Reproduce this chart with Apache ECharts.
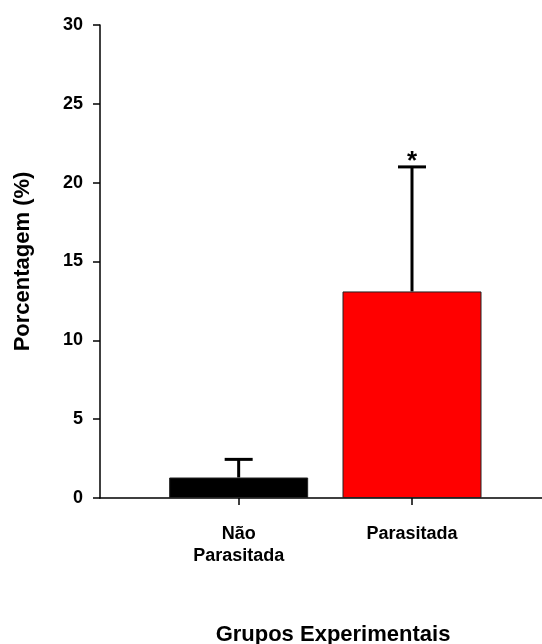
<!DOCTYPE html>
<html>
<head>
<meta charset="utf-8">
<script src="https://cdn.jsdelivr.net/npm/echarts@6/dist/echarts.min.js"></script>
<style>
  html, body { margin: 0; padding: 0; background: #fff; }
  #chart { width: 542px; height: 644px; }
</style>
</head>
<body>
<div id="chart"></div>
<script>
// groups and values
const categories = ['Não\nParasitada', 'Parasitada']
const positions = [1, 2]
const means = [1.3, 13.1]
const errors = [1.15, 7.9]        // upper SD
const marks = ['', '*']           // significance
const yTicks = [0, 5, 10, 15, 20, 25, 30]

const barColors = ['#000000', '#ff0000']
const font = "'Liberation Sans', Arial, sans-serif"

const chart = echarts.init(document.getElementById('chart'), null, { renderer: 'canvas' })

const barData = positions.map((x, i) => ({
  value: [x, means[i]],
  itemStyle: { color: barColors[i], borderColor: '#222', borderWidth: 1 }
}))
const errData = positions.map((x, i) => [x, means[i], means[i] + errors[i], i])

chart.setOption({
  animation: false,
  backgroundColor: '#fff',
  grid: { left: 100, right: 0, top: 25, bottom: 146, containLabel: false },
  title: {
    text: 'Grupos Experimentais',
    left: 328, top: 619, textAlign: 'center',
    textStyle: { fontFamily: font, fontSize: 22, fontWeight: 'bold', color: '#000' }
  },
  xAxis: {
    type: 'value', min: 0.2, max: 2.75,
    splitLine: { show: false },
    axisLine: { show: true, onZero: false, lineStyle: { color: '#000', width: 1.5 } },
    axisTick: { show: true, customValues: positions, length: 7, lineStyle: { color: '#000', width: 1.5 } },
    axisLabel: {
      customValues: positions, margin: 25,
      fontFamily: font, fontSize: 18, fontWeight: 'bold', color: '#000', lineHeight: 22,
      formatter: v => categories[positions.indexOf(v)] || ''
    }
  },
  yAxis: {
    type: 'value', min: 0, max: 30, interval: 5,
    name: 'Porcentagem (%)', nameLocation: 'middle', nameGap: 66, nameRotate: 90,
    nameTextStyle: { fontFamily: font, fontSize: 22, fontWeight: 'bold', color: '#000' },
    splitLine: { show: false },
    axisLine: { show: true, lineStyle: { color: '#000', width: 1.5 } },
    axisTick: { show: true, length: 7, lineStyle: { color: '#000', width: 1.5 } },
    axisLabel: {
      margin: 17, fontFamily: font, fontSize: 18, fontWeight: 'bold', color: '#000',
      formatter: v => yTicks.includes(v) ? String(v) : ''
    }
  },
  series: [
    {
      type: 'bar', data: barData, barWidth: 139, z: 2
    },
    {
      type: 'custom', z: 1,
      data: errData,
      renderItem: function (params, api) {
        const x = api.value(0)
        const lo = api.coord([x, api.value(1)])
        const hi = api.coord([x, api.value(2)])
        const idx = api.value(3)
        const style = { stroke: '#000', lineWidth: 3 }
        const children = [
          { type: 'line', shape: { x1: lo[0], y1: lo[1], x2: hi[0], y2: hi[1] }, style },
          { type: 'line', shape: { x1: hi[0] - 14, y1: hi[1], x2: hi[0] + 14, y2: hi[1] }, style }
        ]
        if (marks[idx]) {
          children.push({
            type: 'text',
            style: {
              text: marks[idx], x: hi[0], y: hi[1] + 8,
              align: 'center', verticalAlign: 'bottom',
              font: 'bold 26px ' + font, fill: '#000'
            }
          })
        }
        return { type: 'group', children }
      }
    }
  ]
})
</script>
</body>
</html>
